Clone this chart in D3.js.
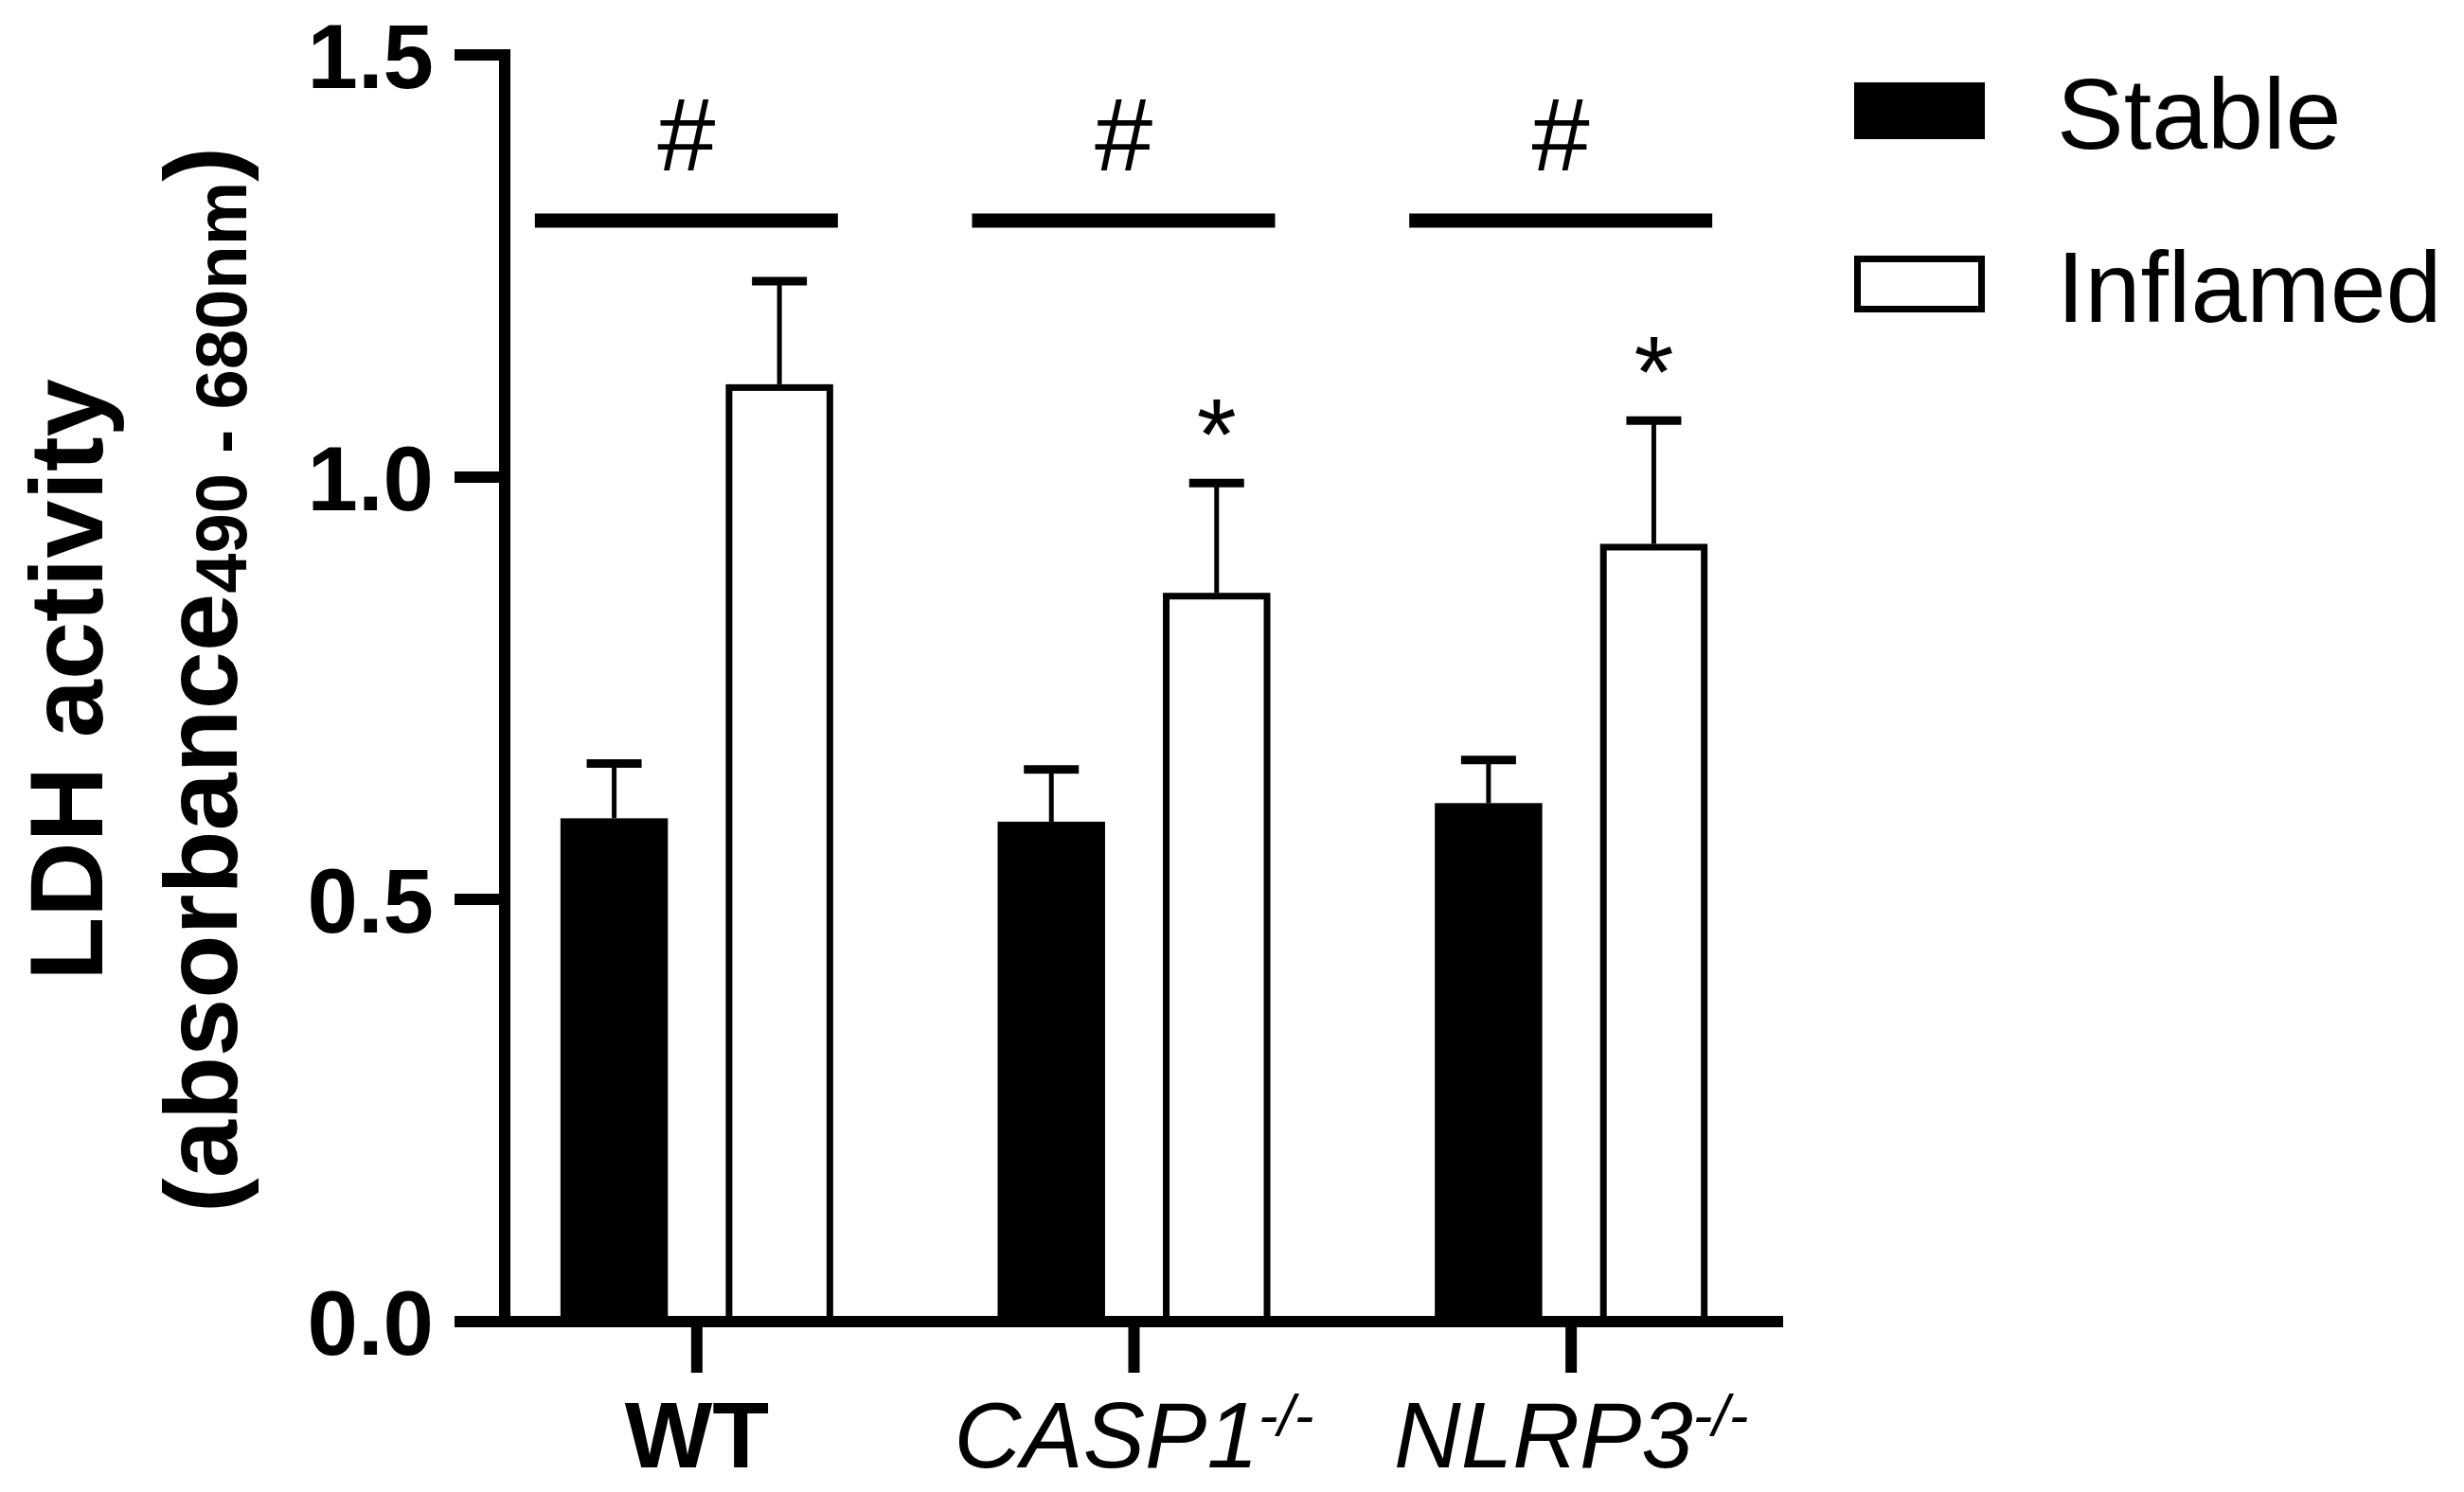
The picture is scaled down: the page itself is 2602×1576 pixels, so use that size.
<!DOCTYPE html>
<html>
<head>
<meta charset="utf-8">
<script src="https://cdn.jsdelivr.net/npm/d3@7"></script>
<style>
  body { margin: 0; background: #fff; }
  svg { display: block; font-family: "Liberation Sans", Arial, sans-serif; }
</style>
</head>
<body>
<div id="chart"></div>
<script>
// data
const groups = ["WT", "CASP1", "NLRP3"];
const series = ["Stable", "Inflamed"];
const stableMean = [0.596, 0.592, 0.614];
const stableSem = [0.065, 0.062, 0.051];
const inflamedMean = [1.110, 0.863, 0.921];
const inflamedSem = [0.122, 0.130, 0.146];
const yTicks = [0, 0.5, 1.0, 1.5];
const hashGroups = ["WT", "CASP1", "NLRP3"];
const starGroups = ["CASP1", "NLRP3"];

const W = 2602, H = 1576;

const svg = d3.select("#chart")
  .append("svg")
  .attr("width", W)
  .attr("height", H);

const y = d3.scaleLinear()
  .domain([0, 1.5])
  .range([1396, 58]);

const x0 = d3.scaleBand()
  .domain(groups)
  .range([505, 1890])
  .padding(0);

const x1 = d3.scaleBand()
  .domain(series)
  .range([-144, 144])
  .paddingInner(0.35)
  .paddingOuter(0);

const rows = [];
groups.forEach(function (g, i) {
  rows.push({ group: g, key: "Stable", mean: stableMean[i], sem: stableSem[i] });
  rows.push({ group: g, key: "Inflamed", mean: inflamedMean[i], sem: inflamedSem[i] });
});
const gc = g => x0(g) + x0.bandwidth() / 2;
const cx = d => gc(d.group);

// bars
svg.append("g")
  .selectAll("rect")
  .data(rows)
  .enter()
  .append("rect")
  .attr("x", d => cx(d) + x1(d.key) + (d.key === "Inflamed" ? 3.5 : 0))
  .attr("y", d => y(d.mean) + (d.key === "Inflamed" ? 3.5 : 0))
  .attr("width", d => x1.bandwidth() - (d.key === "Inflamed" ? 7 : 0))
  .attr("height", d => y(0) - y(d.mean) - (d.key === "Inflamed" ? 3.5 : 0))
  .attr("fill", d => d.key === "Stable" ? "#000" : "#fff")
  .attr("stroke", d => d.key === "Stable" ? "none" : "#000")
  .attr("stroke-width", 7);

// error bars (upper only)
const eb = svg.append("g");
eb.selectAll("line.stem")
  .data(rows)
  .enter()
  .append("line")
  .attr("class", "stem")
  .attr("x1", d => cx(d) + x1(d.key) + x1.bandwidth() / 2)
  .attr("x2", d => cx(d) + x1(d.key) + x1.bandwidth() / 2)
  .attr("y1", d => y(d.mean))
  .attr("y2", d => y(d.mean + d.sem))
  .attr("stroke", "#000")
  .attr("stroke-width", 5);
eb.selectAll("line.cap")
  .data(rows)
  .enter()
  .append("line")
  .attr("class", "cap")
  .attr("x1", d => cx(d) + x1(d.key) + x1.bandwidth() / 2 - 29)
  .attr("x2", d => cx(d) + x1(d.key) + x1.bandwidth() / 2 + 29)
  .attr("y1", d => y(d.mean + d.sem))
  .attr("y2", d => y(d.mean + d.sem))
  .attr("stroke", "#000")
  .attr("stroke-width", 9);

// y axis
const yAxis = svg.append("g");
yAxis.append("line")
  .attr("x1", 533).attr("x2", 533)
  .attr("y1", y(1.5) - 6).attr("y2", y(0))
  .attr("stroke", "#000").attr("stroke-width", 12);
yAxis.selectAll("line.tick")
  .data(yTicks)
  .enter()
  .append("line")
  .attr("class", "tick")
  .attr("x1", 480).attr("x2", 533)
  .attr("y1", d => y(d)).attr("y2", d => y(d))
  .attr("stroke", "#000").attr("stroke-width", 12);
yAxis.selectAll("text")
  .data(yTicks)
  .enter()
  .append("text")
  .attr("x", 458)
  .attr("y", d => y(d))
  .attr("dy", "0.36em")
  .attr("text-anchor", "end")
  .attr("font-size", 96)
  .attr("font-weight", "bold")
  .text(d => d3.format(".1f")(d));

// x axis
const xAxis = svg.append("g");
xAxis.append("line")
  .attr("x1", 480).attr("x2", 1883)
  .attr("y1", y(0)).attr("y2", y(0))
  .attr("stroke", "#000").attr("stroke-width", 12);
xAxis.selectAll("line.tick")
  .data(groups)
  .enter()
  .append("line")
  .attr("class", "tick")
  .attr("x1", gc)
  .attr("x2", gc)
  .attr("y1", y(0)).attr("y2", 1450)
  .attr("stroke", "#000").attr("stroke-width", 12);

const xl = xAxis.selectAll("text")
  .data(groups)
  .enter()
  .append("text")
  .attr("x", gc)
  .attr("y", 1550)
  .attr("text-anchor", "middle")
  .attr("font-size", 98);
xl.filter(g => g === "WT")
  .attr("font-weight", "bold")
  .text(g => g);
xl.filter(g => g !== "WT")
  .attr("font-style", "italic")
  .each(function (g) {
    const t = d3.select(this);
    t.append("tspan").text(g);
    t.append("tspan").attr("font-size", 62).attr("dy", -34).text("-/-");
  });

// significance marks
const sigL = x1("Stable") - 27, sigR = x1("Inflamed") + x1.bandwidth() + 5;
const sig = svg.append("g");
sig.selectAll("line")
  .data(hashGroups)
  .enter()
  .append("line")
  .attr("x1", g => gc(g) + sigL)
  .attr("x2", g => gc(g) + sigR)
  .attr("y1", 233).attr("y2", 233)
  .attr("stroke", "#000").attr("stroke-width", 15);
sig.selectAll("text.hash")
  .data(hashGroups)
  .enter()
  .append("text")
  .attr("class", "hash")
  .attr("x", g => gc(g) + (sigL + sigR) / 2)
  .attr("y", 180)
  .attr("text-anchor", "middle")
  .attr("font-size", 110)
  .text("#");
sig.selectAll("text.star")
  .data(starGroups)
  .enter()
  .append("text")
  .attr("class", "star")
  .attr("x", g => gc(g) + x1("Inflamed") + x1.bandwidth() / 2)
  .attr("y", g => {
    const i = groups.indexOf(g);
    return y(inflamedMean[i] + inflamedSem[i]) - 14;
  })
  .attr("text-anchor", "middle")
  .attr("font-size", 108)
  .text("*");

// legend
const legend = svg.append("g")
  .selectAll("g")
  .data(series)
  .enter()
  .append("g")
  .attr("transform", (d, i) => "translate(1958," + (87 + i * 183) + ")");
legend.append("rect")
  .attr("x", d => d === "Stable" ? 0 : 3.5)
  .attr("y", d => d === "Stable" ? 0 : 3.5)
  .attr("width", d => d === "Stable" ? 138 : 131)
  .attr("height", d => d === "Stable" ? 60 : 53)
  .attr("fill", d => d === "Stable" ? "#000" : "#fff")
  .attr("stroke", d => d === "Stable" ? "none" : "#000")
  .attr("stroke-width", 7);
legend.append("text")
  .attr("x", 214)
  .attr("y", 70)
  .attr("font-size", 106)
  .text(d => d);

// y title
const yt = svg.append("g")
  .attr("transform", "translate(0,718) rotate(-90)");
yt.append("text")
  .attr("x", 0).attr("y", 108)
  .attr("text-anchor", "middle")
  .attr("font-size", 110)
  .attr("font-weight", "bold")
  .text("LDH activity");
const t2 = yt.append("text")
  .attr("x", 0).attr("y", 250)
  .attr("text-anchor", "middle")
  .attr("font-size", 110)
  .attr("font-weight", "bold");
t2.append("tspan").text("(absorbance");
t2.append("tspan").attr("font-size", 76).attr("dy", 10).text("490 - 680nm");
t2.append("tspan").attr("dy", -10).text(")");
</script>
</body>
</html>
